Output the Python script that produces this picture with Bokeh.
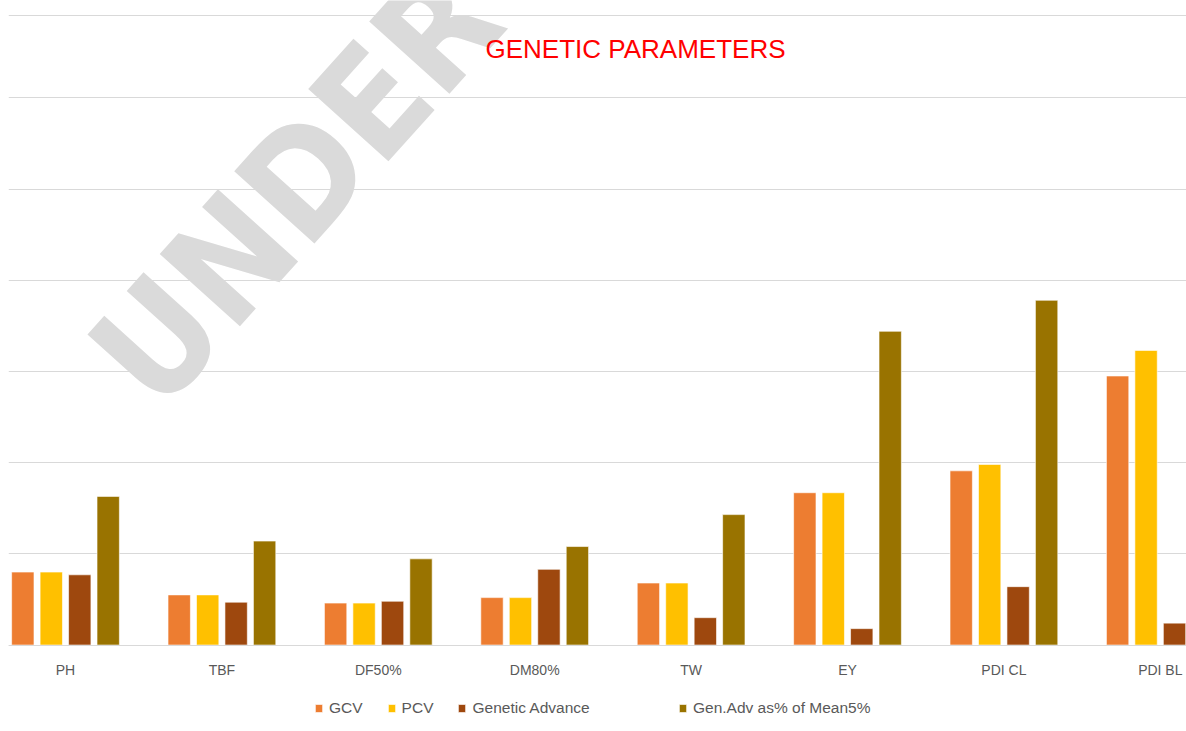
from bokeh.plotting import figure
from bokeh.models import Range1d, FixedTicker, LinearAxis, Legend, LegendItem, Label
from bokeh.embed import file_html
from bokeh.resources import INLINE

# ---- data ----
categories = ["PH", "TBF", "DF50%", "DM80%", "TW", "EY", "PDI CL", "PDI BL"]
gcv = [8.0, 5.5, 4.6, 5.2, 6.8, 16.7, 19.1, 29.5]
pcv = [8.0, 5.5, 4.6, 5.2, 6.8, 16.7, 19.8, 32.3]
genetic_advance = [7.7, 4.7, 4.8, 8.3, 3.0, 1.8, 6.4, 2.4]
gen_adv_pct_mean = [16.3, 11.4, 9.45, 10.8, 14.3, 34.4, 37.8, 40.0]
series_names = ["GCV", "PCV", "Genetic Advance", "Gen.Adv as% of Mean5%"]
grid_values = [0, 10, 20, 30, 40, 50, 60, 69]

# ---- styles ----
colors = ["#ED7D31", "#FFC000", "#9E480E", "#997300"]
offsets = [-0.273, -0.091, 0.091, 0.273]
bar_width = 0.143
label_font = "Liberation Sans"
text_gray = "#595959"
grid_gray = "#d9d9d9"

p = figure(width=1186, height=731, output_backend="svg", toolbar_location=None,
           x_range=Range1d(-0.3645, 7.1675), y_range=Range1d(-9.48, 70.67),
           x_axis_location=None, y_axis_location=None,
           min_border=0, min_border_left=8,
           outline_line_color=None, background_fill_color="white",
           border_fill_color="white")

p.xgrid.visible = False
p.ygrid.ticker = FixedTicker(ticks=grid_values)
p.ygrid.grid_line_color = grid_gray
p.ygrid.grid_line_width = 1

# watermark
p.add_layout(Label(x=113, y=350, x_units="screen", y_units="screen",
                   text="UNDER PEER REVIEW", angle=48, angle_units="deg",
                   text_font="'Liberation Sans Narrow', 'DejaVu Sans Condensed', sans-serif",
                   text_font_style="bold", text_font_size="148px",
                   text_color="#dadada", text_align="left",
                   text_baseline="alphabetic"))

series = [gcv, pcv, genetic_advance, gen_adv_pct_mean]
renderers = []
for k, vals in enumerate(series):
    xs = [i + offsets[k] for i in range(len(categories))]
    r = p.vbar(x=xs, top=vals, bottom=0, width=bar_width,
               fill_color=colors[k], line_color="white", line_alpha=0.6,
               line_width=1)
    renderers.append(r)

xaxis = LinearAxis(fixed_location=0,
                   ticker=FixedTicker(ticks=list(range(len(categories)))),
                   major_label_overrides={i: c for i, c in enumerate(categories)},
                   axis_line_color=grid_gray, major_tick_line_color=None,
                   minor_tick_line_color=None, major_tick_out=0, major_tick_in=0,
                   major_label_standoff=17, major_label_text_font_size="14px",
                   major_label_text_color=text_gray,
                   major_label_text_font=label_font)
p.add_layout(xaxis, "below")

def make_legend(idx, loc):
    return Legend(items=[LegendItem(label=series_names[k], renderers=[renderers[k]]) for k in idx],
                  location=loc, orientation="horizontal", border_line_color=None,
                  background_fill_alpha=0, padding=0, margin=0, spacing=24,
                  label_standoff=6, glyph_width=9, glyph_height=10, label_height=16,
                  label_text_font_size="15.5px", label_text_color=text_gray,
                  label_text_font=label_font)

p.add_layout(make_legend([0, 1, 2], (306, 14)))
p.add_layout(make_legend([3], (670, 14)))

p.add_layout(Label(x=627, y=683, x_units="screen", y_units="screen",
                   text="GENETIC PARAMETERS", text_align="center",
                   text_baseline="middle", text_color="#FF0000",
                   text_font_size="26px", text_font=label_font))

open("out.html", "w").write(file_html(p, INLINE))
